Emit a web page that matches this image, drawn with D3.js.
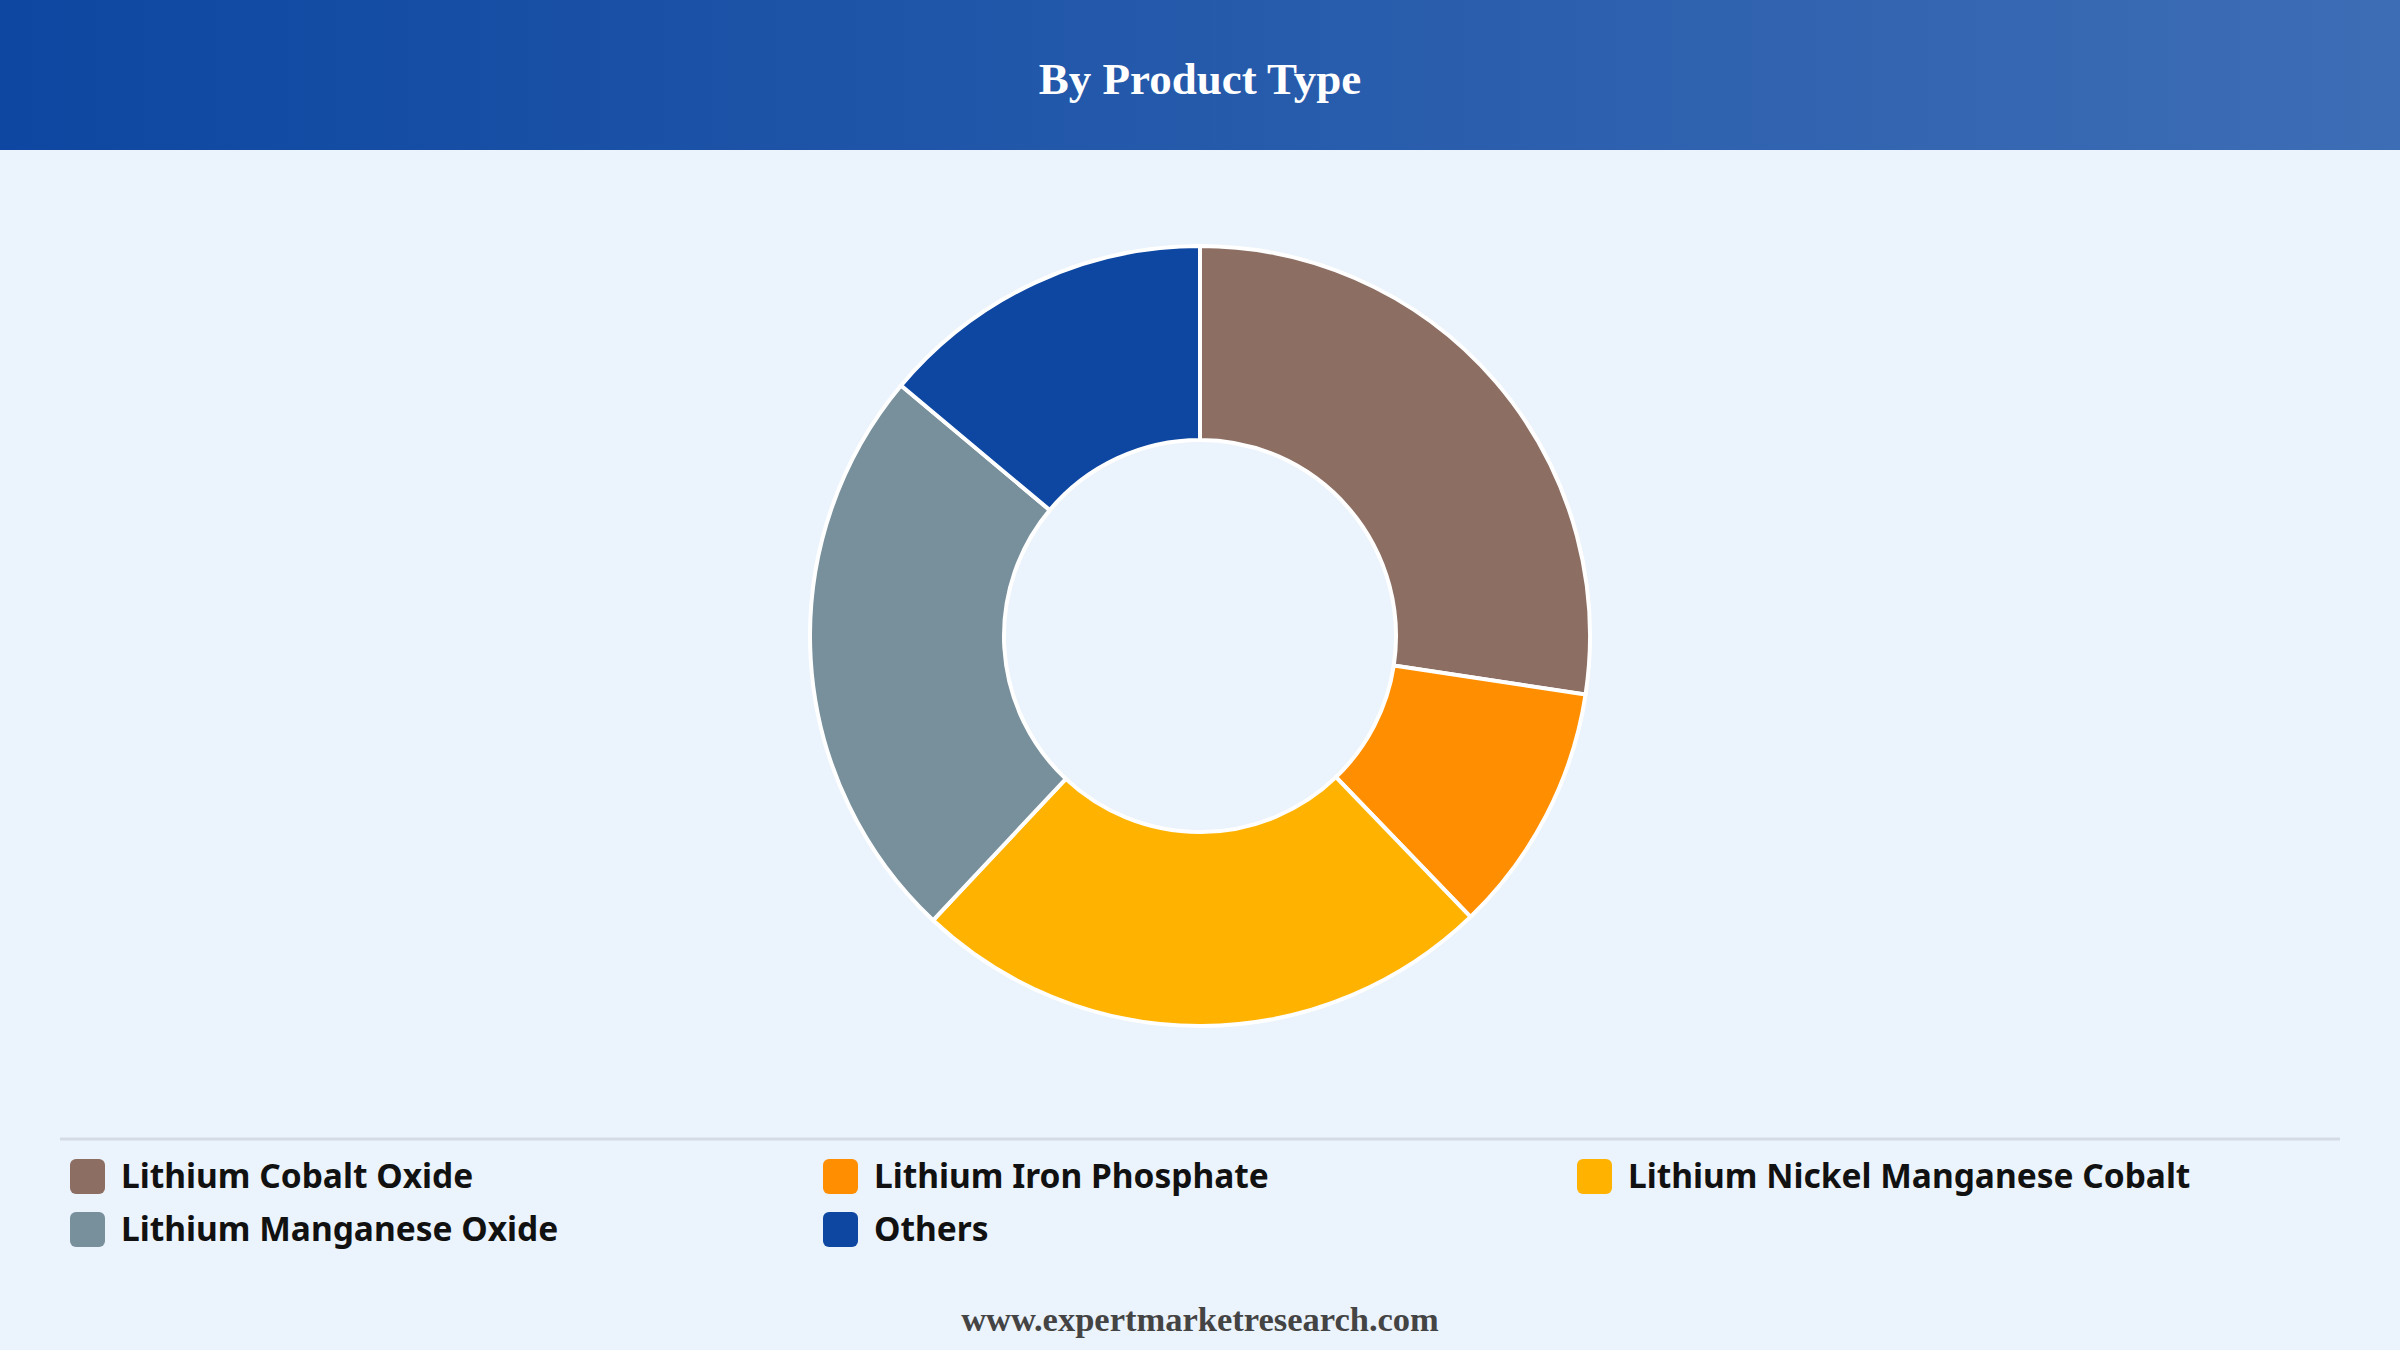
<!DOCTYPE html>
<html lang="en">
<head>
<meta charset="UTF-8">
<title>By Product Type</title>
<script src="https://d3js.org/d3.v7.min.js"></script>
<style>
  body { margin: 0; background: #ebf3fc; }
</style>
</head>
<body>
<script>
// Data
const categories = ["Lithium Cobalt Oxide", "Lithium Iron Phosphate", "Lithium Nickel Manganese Cobalt", "Lithium Manganese Oxide", "Others"];
const values = [27.4, 10.4, 24.2, 24.1, 13.9];
const colors = ["#8d6e63", "#ff8f00", "#ffb300", "#78909c", "#0d47a1"];

const width = 2400, height = 1350;
const svg = d3.select("body").append("svg")
  .attr("width", width).attr("height", height);

// background + header
svg.append("rect").attr("width", width).attr("height", height).attr("fill", "#ebf3fc");
const grad = svg.append("defs").append("linearGradient").attr("id", "hdr");
grad.append("stop").attr("offset", "0%").attr("stop-color", "#0d47a1");
grad.append("stop").attr("offset", "100%").attr("stop-color", "#3d6db5");
svg.append("rect").attr("width", width).attr("height", 150).attr("fill", "url(#hdr)");
svg.append("text").attr("x", width / 2).attr("y", 94)
  .attr("text-anchor", "middle").attr("fill", "#fff")
  .attr("font-family", "Liberation Serif, serif").attr("font-weight", "bold")
  .attr("font-size", 45).text("By Product Type");

// donut
const pie = d3.pie().sort(null).value(d => d);
const arc = d3.arc().innerRadius(196).outerRadius(390);
const g = svg.append("g").attr("transform", "translate(1200,636)");
g.selectAll("path").data(pie(values)).enter().append("path")
  .attr("d", arc)
  .attr("fill", (d, i) => colors[i])
  .attr("stroke", "#fff").attr("stroke-width", 4);

// legend
svg.append("line").attr("x1", 60).attr("x2", 2340).attr("y1", 1139).attr("y2", 1139)
  .attr("stroke", "#d5dbe3").attr("stroke-width", 3);
const col = d3.scaleOrdinal().domain([0, 1, 2]).range([70, 823, 1577]);
const row = d3.scaleOrdinal().domain([0, 1]).range([1176, 1229]);
const items = svg.selectAll(".leg").data(categories).enter().append("g")
  .attr("class", "leg")
  .attr("transform", (d, i) => `translate(${col(i % 3)},${row(Math.floor(i / 3))})`);
items.append("rect").attr("x", 0).attr("y", -17).attr("width", 35).attr("height", 35)
  .attr("rx", 6).attr("fill", (d, i) => colors[i]);
items.append("text").attr("x", 51).attr("y", 12)
  .attr("font-family", "Noto Sans, sans-serif").attr("font-weight", "bold")
  .attr("font-size", 33.5).attr("fill", "#111").text(d => d);

// footer
svg.append("text").attr("x", width / 2).attr("y", 1331)
  .attr("text-anchor", "middle").attr("fill", "#444")
  .attr("font-family", "Liberation Serif, serif").attr("font-weight", "bold")
  .attr("font-size", 34.5).text("www.expertmarketresearch.com");
</script>
</body>
</html>
